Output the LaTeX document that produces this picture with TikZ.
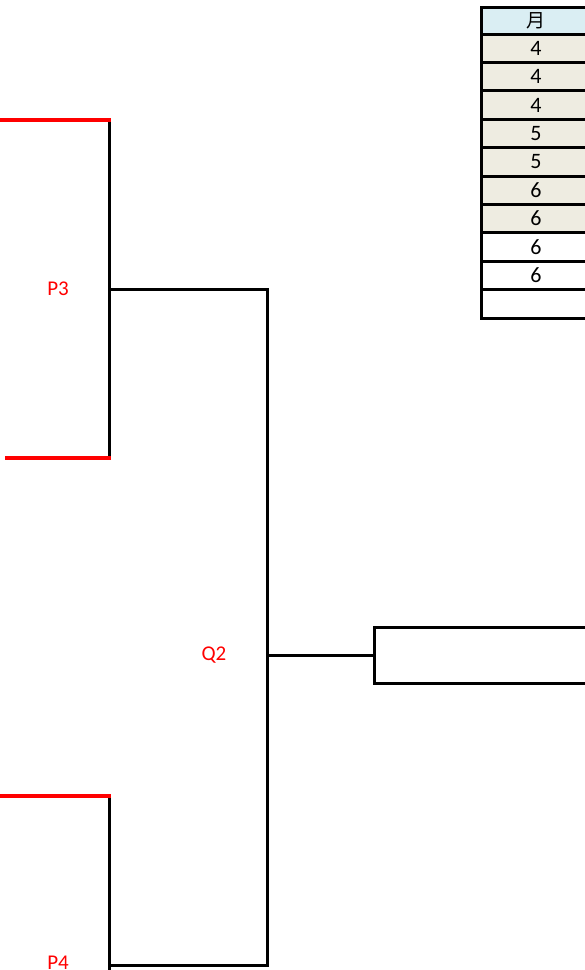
\documentclass[tikz,border=0pt]{standalone}
\usepackage{fontspec}
\setmainfont{Carlito}
\newfontfamily\cjk{Noto Sans CJK JP}
\definecolor{hdrblue}{HTML}{DAEEF3}
\definecolor{beige}{HTML}{EEECE1}
\definecolor{lblred}{HTML}{FF0000}
\begin{document}
\begin{tikzpicture}[x=1pt,y=-1pt,
  cell/.style={draw=black, line width=3pt, anchor=north west, outer sep=0pt, minimum width=110pt, inner sep=0pt, font=\fontsize{22}{22}\selectfont},
  lbl/.style={text=lblred, font=\fontsize{21}{21}\selectfont, inner sep=0pt},
  redline/.style={draw=lblred, line width=4pt},
  blkline/.style={draw=black, line width=3pt},
  outbox/.style={draw=black, line width=3pt, anchor=north west, outer sep=0pt, minimum width=250pt, minimum height=56pt, inner sep=0pt}]
\useasboundingbox (0,0) rectangle (585,970);
% table
\node[cell, fill=hdrblue, minimum height=27pt] (h) at (481,7) {\cjk\fontsize{19}{19}\selectfont 月};
\foreach \i/\v/\c in {0/4/beige,1/4/beige,2/4/beige,3/5/beige,4/5/beige,5/6/beige,6/6/beige,7/6/white,8/6/white,9/{}/white}{
  \node[cell, fill=\c, minimum height=28.4pt] (r\i) at (481,34+28.4*\i) {\v};
}
% coordinates
\coordinate (a1) at (0,120);
\coordinate (a2) at (109,120);
\coordinate (a3) at (109,458);
\coordinate (a4) at (5,458);
\coordinate (a5) at (109,289);
\coordinate (b1) at (267,289);
\coordinate (b2) at (267,965);
\coordinate (b3) at (267,655);
\coordinate (c1) at (0,796);
\coordinate (c2) at (109,796);
\coordinate (c3) at (109,975);
\coordinate (c4) at (109,965);
% output box
\node[outbox] (box) at (374,627) {};
% labels
\node[lbl] (p3) at (58,289) {P3};
\node[lbl] (q2) at (214,655) {Q2};
\node[lbl] (p4) at (58,963) {P4};
% bracket lines
\draw[blkline] (a2) -- (a3);
\draw[blkline] (a5) -- (b1) -- (b2) -- (c4);
\draw[blkline] (c2) -- (c3);
\draw[blkline] (b3) -- (box.west);
\draw[redline] (a1) -- ([xshift=1.5pt]a2);
\draw[redline] (a4) -- ([xshift=1.5pt]a3);
\draw[redline] (c1) -- ([xshift=1.5pt]c2);
\end{tikzpicture}
\end{document}
